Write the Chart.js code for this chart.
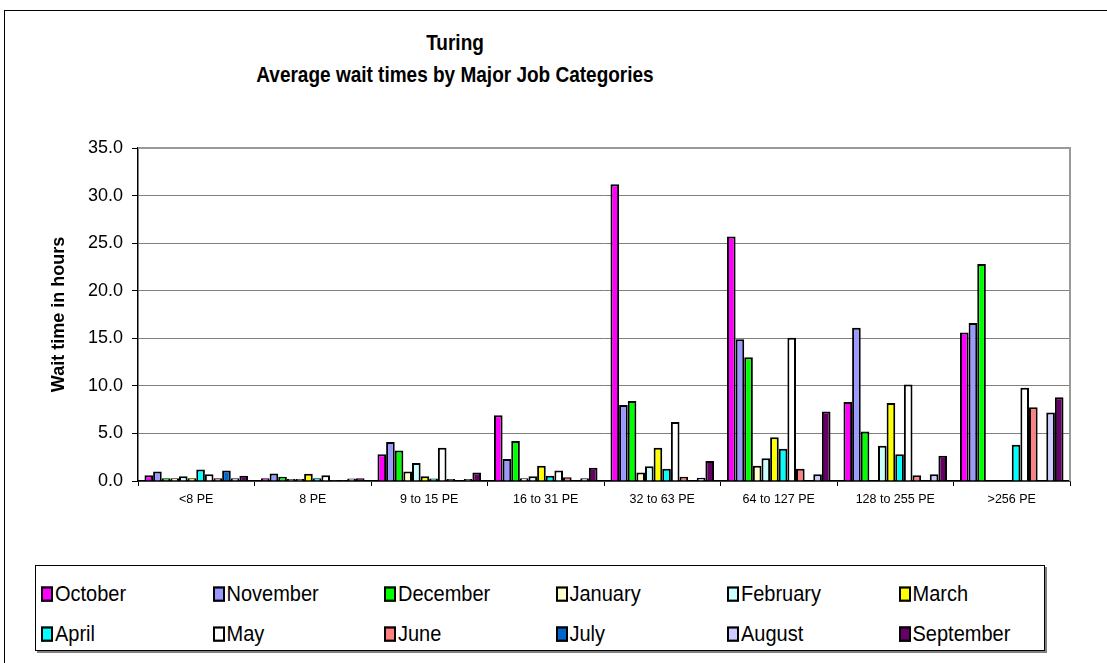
<!DOCTYPE html>
<html>
<head>
<meta charset="utf-8">
<script src="https://cdn.jsdelivr.net/npm/chart.js@4.4.1/dist/chart.umd.min.js"></script>
<style>
    html, body { margin: 0; padding: 0; background: #fff; }
    #wrap { position: relative; width: 1107px; height: 663px; overflow: hidden; font-family: "Liberation Sans", Arial, sans-serif; }
    #frame { position: absolute; left: 4px; top: 10px; width: 1200px; height: 800px; border: 1.5px solid #000; }
    #chartBox { position: absolute; left: 0; top: 0; width: 1107px; height: 520px; }
    .title { position: absolute; left: 0; width: 910px; text-align: center; font-weight: bold; font-size: 19px; color: #000; transform: scaleY(1.12); }
    #legend { position: absolute; left: 35px; top: 565px; width: 1008px; height: 84px; border: 1px solid #000; box-shadow: 2px 2px 0 #808080; background: #fff; }
    .item { position: absolute; font-size: 20px; color: #000; white-space: nowrap; line-height: 24px; transform: scaleY(1.1); transform-origin: left center; }
    .item span.box { display: inline-block; width: 8px; height: 10px; border: 2px solid #000; margin-right: 2px; vertical-align: -1px; }
</style>
</head>
<body>
<div id="wrap">
    <div id="frame"></div>
    <div class="title" style="top:32px">Turing</div>
    <div class="title" style="top:64px">Average wait times by Major Job Categories</div>
    <div id="chartBox"><canvas id="chart"></canvas></div>
    <div id="legend"></div>
</div>
<script>
    const categories = ["<8 PE", "8 PE", "9 to 15 PE", "16 to 31 PE", "32 to 63 PE", "64 to 127 PE", "128 to 255 PE", ">256 PE"];
    const months = ["October", "November", "December", "January", "February", "March", "April", "May", "June", "July", "August", "September"];
    const colors = ["#FF00FF", "#9999FF", "#00FF00", "#FFFFCC", "#CCFFFF", "#FFFF00", "#00FFFF", "#FFFFFF", "#FF8080", "#0066CC", "#CCCCFF", "#660066"];
    const yTicks = [0, 5, 10, 15, 20, 25, 30, 35];

    const october   = [0.6, 0.3, 2.8, 6.9, 31.2, 25.7, 8.3, 15.6];
    const november  = [1.0, 0.8, 4.1, 2.3, 8.0, 14.9, 16.1, 16.6];
    const december  = [0.3, 0.45, 3.2, 4.2, 8.4, 13.0, 5.2, 22.8];
    const january   = [0.3, 0.2, 1.0, 0.3, 0.9, 1.6, 0, 0];
    const february  = [0.5, 0.2, 1.9, 0.5, 1.55, 2.4, 3.7, 0];
    const march     = [0.3, 0.75, 0.5, 1.6, 3.5, 4.6, 8.2, 0];
    const april     = [1.2, 0.3, 0.25, 0.55, 1.3, 3.4, 2.8, 3.8];
    const may       = [0.7, 0.6, 3.5, 1.1, 6.2, 15.05, 10.15, 9.8];
    const june      = [0.3, 0.1, 0.2, 0.4, 0.45, 1.3, 0.6, 7.75];
    const july      = [1.1, 0.1, 0.05, 0, 0, 0, 0, 0];
    const august    = [0.3, 0.25, 0.2, 0.3, 0.35, 0.7, 0.7, 7.2];
    const september = [0.55, 0.3, 0.9, 1.4, 2.1, 7.3, 2.65, 8.8];

    const series = [october, november, december, january, february, march, april, may, june, july, august, september];

    // legend as html, 6 columns x 2 rows
    const legend = document.getElementById("legend");
    months.forEach(function (m, i) {
        const el = document.createElement("div");
        el.className = "item";
        el.style.left = (5 + (i % 6) * 171.5) + "px";
        el.style.top = (i < 6 ? 15 : 55) + "px";
        el.innerHTML = '<span class="box" style="background:' + colors[i] + '"></span>' + m;
        legend.appendChild(el);
    });

    const frameLines = {
        id: "frameLines",
        afterDatasetsDraw(chart) {
            const a = chart.chartArea;
            const ctx = chart.ctx;
            ctx.save();
            ctx.strokeStyle = "#999999";
            ctx.lineWidth = 2;
            ctx.beginPath();
            ctx.moveTo(a.left, a.top);
            ctx.lineTo(a.right, a.top);
            ctx.lineTo(a.right, a.bottom);
            ctx.stroke();
            ctx.restore();
        }
    };

    new Chart(document.getElementById("chart"), {
        type: "bar",
        data: {
            labels: categories,
            datasets: series.map(function (d, i) {
                return {
                    label: months[i],
                    data: d,
                    backgroundColor: colors[i],
                    borderColor: "#000",
                    borderWidth: 2,
                    categoryPercentage: 12 / 13.5,
                    barPercentage: 1
                };
            })
        },
        options: {
            responsive: true,
            maintainAspectRatio: false,
            animation: false,
            layout: { padding: { left: 48, top: 148, right: 37, bottom: 0 } },
            plugins: { legend: { display: false }, tooltip: { enabled: false } },
            scales: {
                x: {
                    offset: true,
                    afterFit(s) { s.height = 39; },
                    grid: { drawOnChartArea: false, offset: true, tickLength: 5, tickColor: "#000" },
                    border: { color: "#000", width: 1.5 },
                    ticks: { color: "#000", font: { family: "Liberation Sans", size: 12.5 }, padding: 6, maxRotation: 0 }
                },
                y: {
                    min: 0,
                    max: 35,
                    afterFit(s) { s.width = 90; },
                    afterBuildTicks(s) { s.ticks = yTicks.map(v => ({ value: v })); },
                    grid: { color: "#808080", lineWidth: 1, tickLength: 6, tickColor: "#000" },
                    border: { color: "#000", width: 1.5 },
                    ticks: {
                        color: "#000",
                        font: { family: "Liberation Sans", size: 18 },
                        padding: 9,
                        callback: v => Number(v).toFixed(1)
                    },
                    title: {
                        display: true,
                        text: "Wait time in hours",
                        color: "#000",
                        font: { family: "Liberation Sans", size: 18, weight: "bold" },
                        padding: { top: 0, bottom: 0 }
                    }
                }
            }
        },
        plugins: [frameLines]
    });
</script>
</body>
</html>
